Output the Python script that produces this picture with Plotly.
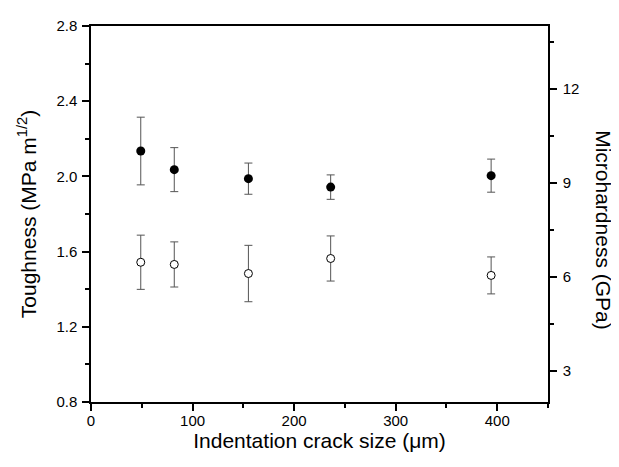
import plotly.graph_objects as go

crack_size = [49, 82, 155, 236, 394]
toughness = [2.135, 2.036, 1.988, 1.943, 2.004]
toughness_err = [0.18, 0.117, 0.083, 0.065, 0.088]
hardness = [6.46, 6.39, 6.10, 6.58, 6.04]
hardness_err = [0.865, 0.72, 0.9, 0.72, 0.59]

FONT = "Liberation Sans, Arial, sans-serif"
ERR_COLOR = "#555555"

fig = go.Figure()
fig.add_trace(go.Scatter(
    x=crack_size, y=toughness, mode="markers",
    marker=dict(symbol="circle", size=9, color="black"),
    error_y=dict(type="data", array=toughness_err, color=ERR_COLOR, thickness=1, width=4),
    showlegend=False, yaxis="y"))
fig.add_trace(go.Scatter(
    x=crack_size, y=hardness, mode="markers",
    marker=dict(symbol="circle", size=8, color="white", line=dict(color="black", width=1)),
    error_y=dict(type="data", array=hardness_err, color=ERR_COLOR, thickness=1, width=4),
    showlegend=False, yaxis="y2"))

axis_common = dict(showline=True, linecolor="black", linewidth=1.5, ticks="outside",
                   tickcolor="black", tickwidth=1.5, ticklen=7, showgrid=False, zeroline=False,
                   tickfont=dict(family=FONT, size=15, color="black"))
minor_common = dict(ticks="outside", ticklen=4, tickcolor="black", tickwidth=1.5)

# page has an 8px body margin, so the figure is sized/margined to compensate
fig.update_layout(
    width=611, height=459,
    margin=dict(l=83, r=71, t=9, b=65),
    plot_bgcolor="white", paper_bgcolor="white",
    font=dict(family=FONT, color="black"),
    xaxis=dict(range=[0, 450], tick0=0, dtick=100, mirror=True, ticklabelstandoff=-3,
               minor=dict(dtick=50, **minor_common),
               title=dict(text="Indentation crack size (μm)", font=dict(family=FONT, size=21), standoff=4),
               **axis_common),
    yaxis=dict(range=[0.8, 2.8], tick0=0.8, dtick=0.4, tickformat=".1f", ticklabelstandoff=2,
               minor=dict(dtick=0.2, **minor_common),
               title=dict(text="Toughness (MPa m<sup>1/2</sup>)", font=dict(family=FONT, size=21), standoff=14),
               **axis_common),
    yaxis2=dict(range=[2, 14], tick0=0, dtick=3, overlaying="y", side="right", ticklabelstandoff=3,
                minor=dict(dtick=1.5, **minor_common),
                **axis_common),
    annotations=[dict(text="Microhardness (GPa)", textangle=90, xref="paper", yref="paper",
                      x=1.1225, y=0.457, xanchor="center", yanchor="middle", showarrow=False,
                      font=dict(family=FONT, size=21, color="black"))],
)

fig.write_html("out.html")
